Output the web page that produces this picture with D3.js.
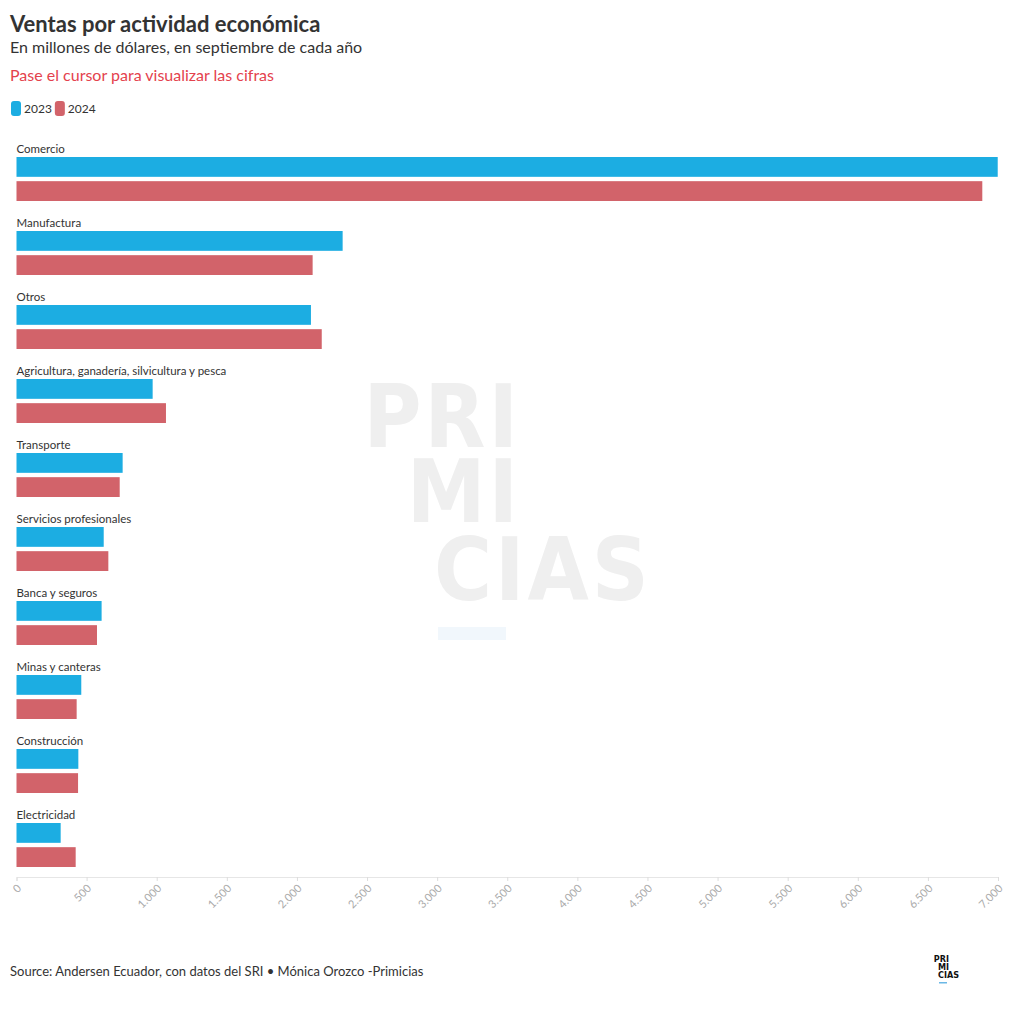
<!DOCTYPE html>
<html><head><meta charset="utf-8">
<script src="https://cdn.jsdelivr.net/npm/d3@7"></script>
<style>
body{margin:0;background:#fff;}
svg{display:block;font-family:"Lato","Noto Sans",sans-serif;}
</style></head>
<body>
<svg id="c" width="1020" height="1019"></svg>
<script>
const categories = ["Comercio","Manufactura","Otros","Agricultura, ganadería, silvicultura y pesca","Transporte","Servicios profesionales","Banca y seguros","Minas y canteras","Construcción","Electricidad"];
const series = ["2023","2024"];
const values2023 = [6998, 2326, 2100, 971, 757, 622, 607, 462, 441, 315];
const values2024 = [6888, 2112, 2177, 1066, 736, 655, 574, 429, 439, 422];
const tickValues = [0,500,1000,1500,2000,2500,3000,3500,4000,4500,5000,5500,6000,6500,7000];
const colors = ["#1cade2","#d2636a"];

const svg = d3.select("#c");
const fmt = d3.formatLocale({decimal:",",thousands:".",grouping:[3],currency:["$",""]}).format(",d");

// Watermark
const wm = svg.append("g").attr("fill","#efefef").attr("font-family","'DejaVu Sans Condensed','DejaVu Sans',sans-serif").attr("font-weight","bold").attr("font-size",88);
wm.append("text").attr("x",521).attr("y",447).attr("text-anchor","end").attr("letter-spacing",3).text("PRI");
wm.append("text").attr("x",521).attr("y",522).attr("text-anchor","end").attr("letter-spacing",3).text("MI");
wm.append("text").attr("x",434).attr("y",600).attr("letter-spacing",3).text("CIAS");
svg.append("rect").attr("x",438).attr("y",627).attr("width",68).attr("height",13).attr("fill","#f1f7fc");

// Titles
svg.append("text").attr("x",10).attr("y",32).attr("font-size",22).attr("font-weight","bold").attr("fill","#333").text("Ventas por actividad económica");
svg.append("text").attr("x",10).attr("y",53).attr("font-size",16).attr("fill","#333").text("En millones de dólares, en septiembre de cada año");
svg.append("text").attr("x",10).attr("y",81).attr("font-size",16).attr("fill","#e4424d").text("Pase el cursor para visualizar las cifras");

// Legend
const lg = svg.append("g").attr("transform","translate(11,101)");
let lx = 0;
series.forEach((s,i)=>{
  lg.append("rect").attr("x",lx).attr("y",0).attr("width",10).attr("height",15).attr("rx",3).attr("fill",colors[i]);
  const t = lg.append("text").attr("x",lx+13).attr("y",12).attr("font-size",12).attr("fill","#333").text(s);
  lx += 13 + t.node().getComputedTextLength() + 3;
});

// Scales
const x = d3.scaleLinear().domain([0,7000]).range([16.5,998]);
const y = d3.scaleBand().domain(categories).range([142,882]).paddingInner(0).paddingOuter(0);
const yi = d3.scaleBand().domain(series).range([15,59]).paddingInner(0.18);

const data = categories.map((c,i)=>({cat:c, vals:[values2023[i], values2024[i]]}));

const g = svg.append("g");
const grp = g.selectAll("g.grp").data(data).join("g").attr("class","grp")
  .attr("transform",d=>`translate(0,${y(d.cat)})`);
grp.append("text").attr("x",16.5).attr("y",10.5).attr("font-size",11.5).attr("fill","#333").text(d=>d.cat);
grp.selectAll("rect").data(d=>d.vals.map((v,i)=>({s:series[i],v,i}))).join("rect")
  .attr("x",x(0)).attr("y",d=>yi(d.s)).attr("height",yi.bandwidth())
  .attr("width",d=>x(d.v)-x(0)).attr("fill",d=>colors[d.i]);

// Axis
const ax = svg.append("g").attr("transform","translate(0,877)")
  .call(d3.axisBottom(x).tickValues(tickValues).tickSize(4).tickFormat(d=>fmt(d)));
ax.select(".domain").attr("stroke","#e6e6e6");
ax.selectAll(".tick line").attr("stroke","#ddd");
ax.selectAll(".tick text").attr("fill","#aaa").attr("font-size",11)
  .attr("font-family","Lato,sans-serif")
  .attr("text-anchor","end").attr("dy",0).attr("y",0)
  .attr("transform","translate(5,12) rotate(-45)");

// Source
svg.append("text").attr("x",10).attr("y",976).attr("font-size",13).attr("fill","#333")
  .text("Source: Andersen Ecuador, con datos del SRI • Mónica Orozco -Primicias");

// Logo
const lo = svg.append("g").attr("font-family","'DejaVu Sans Condensed','DejaVu Sans',sans-serif").attr("font-weight","bold").attr("font-size",9).attr("fill","#111");
lo.append("text").attr("x",949).attr("y",962).attr("text-anchor","end").text("PRI");
lo.append("text").attr("x",949).attr("y",970).attr("text-anchor","end").text("MI");
lo.append("text").attr("x",938).attr("y",978).text("CIAS");
svg.append("rect").attr("x",939).attr("y",982).attr("width",8).attr("height",1.5).attr("fill","#6bb8e6");
</script>
</body></html>
